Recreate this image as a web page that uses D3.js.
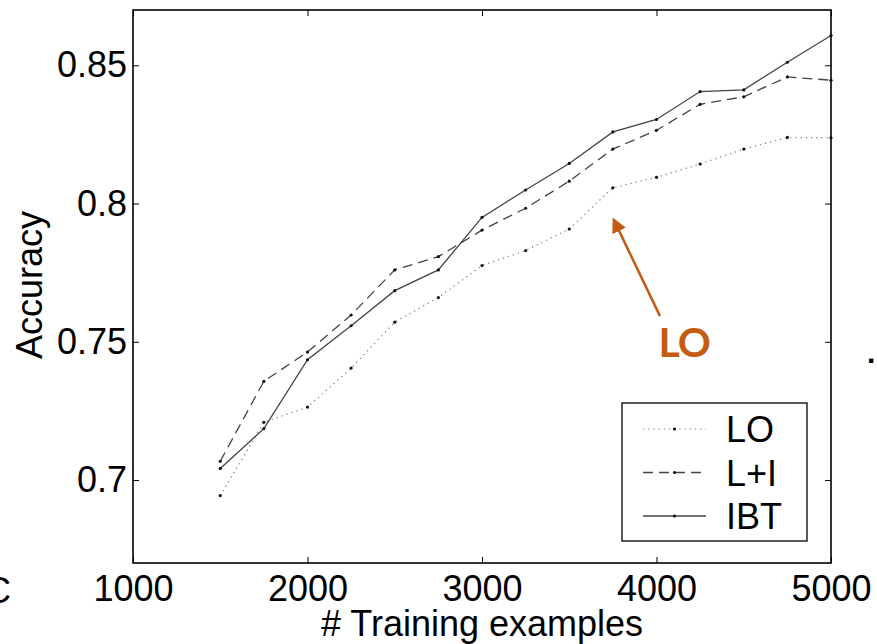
<!DOCTYPE html>
<html>
<head>
<meta charset="utf-8">
<script src="https://cdn.jsdelivr.net/npm/d3@7"></script>
<style>
  body { margin: 0; background: #fff; }
  svg { display: block; font-family: "Liberation Sans", Arial, sans-serif; }
</style>
</head>
<body>
<div class="chart"></div>
<script>
// training set sizes and accuracy per method
var sizes = [1500, 1750, 2000, 2250, 2500, 2750, 3000, 3250, 3500, 3750, 4000, 4250, 4500, 4750, 5000];
var lo  = [0.6944, 0.7209, 0.7264, 0.7405, 0.7571, 0.7660, 0.7776, 0.7830, 0.7908, 0.8057, 0.8095, 0.8143, 0.8197, 0.8239, 0.8238];
var li  = [0.7068, 0.7357, 0.7463, 0.7597, 0.7760, 0.7808, 0.7904, 0.7983, 0.8081, 0.8197, 0.8265, 0.8359, 0.8386, 0.8458, 0.8446];
var ibt = [0.7042, 0.7186, 0.7435, 0.7558, 0.7685, 0.7760, 0.7950, 0.8049, 0.8145, 0.8259, 0.8304, 0.8405, 0.8411, 0.8511, 0.8608];
var seriesNames = ['LO', 'L+I', 'IBT'];
var xTicks = [1000, 2000, 3000, 4000, 5000];
var yTicks = [0.7, 0.75, 0.8, 0.85];

var width = 877, height = 644;
var plot = { left: 133, right: 831, top: 10, bottom: 563 };

var svg = d3.select('.chart')
  .append('svg')
  .attr('width', width)
  .attr('height', height);

var x = d3.scaleLinear().domain([1000, 5000]).range([plot.left, plot.right]);
var y = d3.scaleLinear().domain([0.67, 0.87]).range([plot.bottom, plot.top]);

var fmtY = d => d === 0.85 || d === 0.75 ? d.toFixed(2) : d.toFixed(1);

function styleAxis(g) {
  g.select('.domain').remove();
  g.selectAll('.tick line').attr('stroke', '#000').attr('stroke-width', 1);
  g.selectAll('text').attr('font-size', 36).attr('fill', '#000')
    .attr('font-family', '"Liberation Sans", Arial, sans-serif');
}

// inward ticks on all four sides
svg.append('g')
  .attr('transform', `translate(0, ${plot.bottom})`)
  .call(d3.axisBottom(x).tickValues(xTicks).tickSize(-6).tickPadding(12).tickFormat(d3.format('d')))
  .call(styleAxis);
svg.append('g')
  .attr('transform', `translate(0, ${plot.top})`)
  .call(d3.axisTop(x).tickValues(xTicks).tickSize(-6).tickFormat(''))
  .call(styleAxis);
svg.append('g')
  .attr('transform', `translate(${plot.left}, 0)`)
  .call(d3.axisLeft(y).tickValues(yTicks).tickSize(-6).tickPadding(6).tickFormat(fmtY))
  .call(styleAxis);
svg.append('g')
  .attr('transform', `translate(${plot.right}, 0)`)
  .call(d3.axisRight(y).tickValues(yTicks).tickSize(-6).tickFormat(''))
  .call(styleAxis);

svg.append('rect')
  .attr('x', plot.left)
  .attr('y', plot.top)
  .attr('width', plot.right - plot.left)
  .attr('height', plot.bottom - plot.top)
  .attr('fill', 'none')
  .attr('stroke', '#000')
  .attr('stroke-width', 1.6);

var styles = {
  'LO':  { values: lo,  stroke: '#777', dash: '1.2,4',  width: 1.2 },
  'L+I': { values: li,  stroke: '#444', dash: '10,6',   width: 1.3 },
  'IBT': { values: ibt, stroke: '#444', dash: null,     width: 1.3 }
};

var line = d3.line()
  .x(d => x(d[0]))
  .y(d => y(d[1]));

seriesNames.forEach(function (name) {
  var s = styles[name];
  var pts = sizes.map((sz, i) => [sz, s.values[i]]);
  svg.append('path')
    .datum(pts)
    .attr('d', line)
    .attr('fill', 'none')
    .attr('stroke', s.stroke)
    .attr('stroke-width', s.width)
    .attr('stroke-dasharray', s.dash);
  svg.append('g')
    .selectAll('circle')
    .data(pts)
    .enter()
    .append('circle')
    .attr('cx', d => x(d[0]))
    .attr('cy', d => y(d[1]))
    .attr('r', 1.6)
    .attr('fill', '#111');
});

// axis titles
svg.append('text')
  .attr('transform', 'translate(42, 285) rotate(-90)')
  .attr('text-anchor', 'middle')
  .attr('font-size', 36)
  .text('Accuracy');

svg.append('text')
  .attr('x', (plot.left + plot.right) / 2)
  .attr('y', 636)
  .attr('text-anchor', 'middle')
  .attr('font-size', 36)
  .text('# Training examples');

// legend
var legend = svg.append('g').attr('transform', 'translate(622, 403)');
legend.append('rect')
  .attr('width', 185)
  .attr('height', 138)
  .attr('fill', '#fff')
  .attr('stroke', '#000')
  .attr('stroke-width', 1.3);
seriesNames.forEach(function (name, i) {
  var s = styles[name];
  var ry = 26 + i * 43.5;
  legend.append('line')
    .attr('x1', 21).attr('x2', 84)
    .attr('y1', ry).attr('y2', ry)
    .attr('stroke', s.stroke)
    .attr('stroke-width', s.width)
    .attr('stroke-dasharray', s.dash);
  legend.append('circle')
    .attr('cx', 52.5).attr('cy', ry).attr('r', 1.6).attr('fill', '#111');
  legend.append('text')
    .attr('x', 104)
    .attr('y', ry + 13)
    .attr('font-size', 36)
    .text(name);
});

// annotation pointing at the LO curve
var orange = '#C55A11';
var arrowTail = [4020, 0.7593], arrowTip = [3756, 0.7940];
svg.append('defs').append('marker')
  .attr('id', 'head')
  .attr('viewBox', '0 0 10 10')
  .attr('refX', 8).attr('refY', 5)
  .attr('markerWidth', 6).attr('markerHeight', 6)
  .attr('markerUnits', 'strokeWidth')
  .attr('orient', 'auto')
  .append('path')
  .attr('d', 'M0,0 L10,5 L0,10 z')
  .attr('fill', orange);
svg.append('line')
  .attr('x1', x(arrowTail[0])).attr('y1', y(arrowTail[1]))
  .attr('x2', x(arrowTip[0])).attr('y2', y(arrowTip[1]))
  .attr('stroke', orange)
  .attr('stroke-width', 2.5)
  .attr('marker-end', 'url(#head)');
svg.append('text')
  .attr('x', x(4011))
  .attr('y', y(0.7445))
  .attr('fill', orange)
  .attr('font-family', 'Lato, "Open Sans", sans-serif')
  .attr('font-weight', 'bold')
  .attr('font-size', 41)
  .attr('letter-spacing', -1)
  .text('LO');

// stray marks at the page edges
svg.append('text').attr('x', -15).attr('y', 603).attr('font-size', 36).text('C');
svg.append('text').attr('x', 867).attr('y', 363).attr('font-size', 30).attr('font-weight', 'bold').text('.');
</script>
</body>
</html>
